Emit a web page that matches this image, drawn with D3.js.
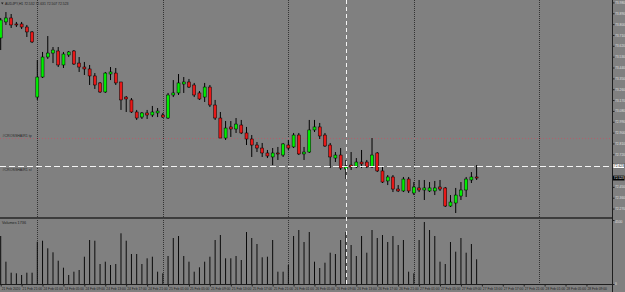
<!DOCTYPE html>
<html lang="en">
<head>
<meta charset="UTF-8">
<title>AUDJPY,H1</title>
<style>
  html, body { margin: 0; padding: 0; background: #808080; }
  svg { display: block; font-family: "Liberation Sans", Arial, sans-serif; }
</style>
</head>
<body>
<script src="https://cdn.jsdelivr.net/npm/d3@7"></script>
<script>
// ---- data ----
const symbol = 'AUDJPY,H1';
const dayNames = ['21 Feb', '24 Feb', '25 Feb', '26 Feb', '27 Feb', '28 Feb'];
const dayStartHour = [17, 0, 0, 0, 0, 0];
const dayHours = [7, 24, 24, 24, 24, 24];

const open = [
  73.685, 73.818, 73.851, 73.801, 73.801, 73.776, 73.735,
  73.195, 73.361, 73.527, 73.560, 73.577, 73.461, 73.544, 73.577, 73.477, 73.444,
  73.428, 73.370, 73.312, 73.237, 73.386, 73.394, 73.320, 73.195, 73.171, 73.071,
  73.029, 73.063, 73.046, 73.063, 73.046, 73.021, 73.212, 73.229, 73.303, 73.320,
  73.295, 73.229, 73.195, 73.278, 73.129, 73.021, 72.855, 72.947, 72.930, 72.963,
  72.897, 72.847, 72.797, 72.772, 72.731, 72.698, 72.731, 72.714, 72.797, 72.781,
  72.880, 72.723, 72.739, 72.922, 72.947, 72.880, 72.797, 72.689, 72.714, 72.598,
  72.631, 72.615, 72.656, 72.656, 72.615, 72.731, 72.582, 72.499, 72.532, 72.432,
  72.416, 72.515, 72.399, 72.441, 72.424, 72.416, 72.416, 72.449, 72.441, 72.291,
  72.316, 72.374, 72.424, 72.507, 72.532
];
const high = [
  73.851, 73.900, 73.884, 73.818, 73.818, 73.793, 73.743,
  73.502, 73.569, 73.701, 73.610, 73.610, 73.569, 73.577, 73.585, 73.527, 73.486,
  73.461, 73.394, 73.320, 73.403, 73.444, 73.436, 73.320, 73.204, 73.187, 73.088,
  73.071, 73.088, 73.121, 73.104, 73.063, 73.229, 73.336, 73.386, 73.361, 73.345,
  73.312, 73.245, 73.312, 73.295, 73.171, 73.071, 72.996, 72.996, 73.021, 73.005,
  72.947, 72.880, 72.822, 72.814, 72.756, 72.772, 72.781, 72.814, 72.839, 72.897,
  72.897, 72.781, 73.005, 73.005, 72.980, 72.897, 72.814, 72.739, 72.772, 72.673,
  72.739, 72.689, 72.756, 72.673, 72.855, 72.739, 72.615, 72.548, 72.548, 72.465,
  72.532, 72.532, 72.490, 72.507, 72.507, 72.490, 72.499, 72.507, 72.449, 72.382,
  72.441, 72.490, 72.532, 72.573, 72.631
];
const low = [
  73.585, 73.793, 73.768, 73.776, 73.759, 73.693, 73.643,
  73.171, 73.353, 73.511, 73.477, 73.444, 73.436, 73.527, 73.461, 73.403, 73.378,
  73.295, 73.262, 73.229, 73.229, 73.336, 73.295, 73.088, 73.071, 73.063, 73.005,
  73.013, 73.013, 73.029, 73.029, 73.021, 73.013, 73.195, 73.212, 73.229, 73.270,
  73.195, 73.171, 73.154, 73.112, 73.005, 72.855, 72.839, 72.864, 72.897, 72.888,
  72.797, 72.698, 72.739, 72.698, 72.689, 72.631, 72.673, 72.698, 72.756, 72.772,
  72.714, 72.673, 72.731, 72.905, 72.847, 72.781, 72.606, 72.656, 72.590, 72.515,
  72.590, 72.606, 72.606, 72.606, 72.606, 72.573, 72.482, 72.465, 72.407, 72.407,
  72.407, 72.399, 72.382, 72.407, 72.341, 72.407, 72.382, 72.416, 72.283, 72.283,
  72.233, 72.341, 72.366, 72.482, 72.507
];
const close = [
  73.834, 73.851, 73.793, 73.793, 73.776, 73.735, 73.652,
  73.361, 73.527, 73.560, 73.585, 73.461, 73.552, 73.569, 73.469, 73.444, 73.428,
  73.370, 73.295, 73.237, 73.394, 73.403, 73.312, 73.171, 73.179, 73.071, 73.021,
  73.063, 73.046, 73.071, 73.079, 73.029, 73.212, 73.229, 73.312, 73.320, 73.278,
  73.212, 73.179, 73.278, 73.129, 73.021, 72.855, 72.938, 72.930, 72.971, 72.897,
  72.847, 72.797, 72.772, 72.731, 72.706, 72.731, 72.723, 72.806, 72.772, 72.880,
  72.723, 72.739, 72.922, 72.947, 72.872, 72.789, 72.698, 72.714, 72.606, 72.623,
  72.615, 72.656, 72.640, 72.615, 72.714, 72.582, 72.490, 72.532, 72.432, 72.416,
  72.515, 72.416, 72.449, 72.424, 72.441, 72.441, 72.441, 72.432, 72.291, 72.324,
  72.382, 72.424, 72.515, 72.532, 72.523
];
const volume = [
  3375, 1568, 794, 752, 633, 794, 794,
  2974, 3044, 2510, 2229, 1638, 1146, 633, 865, 984, 1919,
  3093, 3044, 1406, 1568, 1336, 1406, 3564, 3044, 2109, 2109,
  1406, 1807, 1919, 865, 752, 1968, 3234, 3374, 1968, 1568,
  865, 1174, 1568, 1919, 3093, 3445, 1807, 1807, 1968, 1687,
  3656, 3234, 2812, 1877, 1919, 3093, 865, 865, 1336, 3374,
  3796, 2953, 3656, 1568, 1125, 1497, 2200, 2109, 3093, 3656,
  2742, 1968, 3374, 2200, 3796, 3234, 3445, 2953, 3374, 2742,
  3093, 865, 752, 3093, 4359, 3796, 3374, 1568, 1406, 2953,
  2271, 3234, 2200, 2812, 1736
];
const priceTicks = [73.980, 73.890, 73.800, 73.710, 73.620, 73.530, 73.440, 73.350, 73.260,
  73.170, 73.080, 72.990, 72.900, 72.810, 72.720, 72.630, 72.540, 72.450, 72.360, 72.270];
const volumeTicks = [4500, 0];
const levelPrice = 72.855;   // red dotted line
const crossPrice = 72.623;   // white dashed crosshair
const crossBar = 66;
const levelLabels = ['#CROSSHAIR1 tp', '#CROSSHAIR1 sl'];

// ---- layout ----
const W = 625, H = 292;
const plotR = 612.5;
const mainTop = 0, mainBot = 217;
const volTop = 220, volBot = 284;
const axisFont = 3.3;

// bar times (categories) for the time axis
const times = [];
dayNames.forEach((d, k) => {
  for (let h = 0; h < dayHours[k]; h++) {
    times.push({ day: d, hour: dayStartHour[k] + h });
  }
});

const bars = open.map((o, i) => ({ i, o, h: high[i], l: low[i], c: close[i], v: volume[i] }));

const x = d3.scaleLinear().domain([0, 91]).range([0.7, 0.7 + 91 * 5.23]);
const y = d3.scaleLinear().domain([72.2, 74.0]).range([mainBot, mainTop]);
const yVol = d3.scaleLinear().domain([0, 4500]).range([volBot, volTop]);
const f3 = d3.format('.3f');

const svg = d3.select('body').append('svg')
  .attr('width', W).attr('height', H);

svg.append('rect').attr('width', W).attr('height', H).attr('fill', '#808080');

// period separators (day starts)
const sepIdx = times.map((t, i) => i).filter(i => times[i].hour === 0 && x(i) < plotR);
svg.append('g').selectAll('line').data(sepIdx).enter().append('line')
  .attr('x1', d => Math.round(x(d)) + 0.5).attr('x2', d => Math.round(x(d)) + 0.5)
  .attr('y1', 0).attr('y2', volBot)
  .attr('stroke', '#333').attr('stroke-width', 1).attr('stroke-dasharray', '1,1');

// red level line
svg.append('line')
  .attr('x1', 0).attr('x2', plotR)
  .attr('y1', Math.round(y(levelPrice)) + 0.5).attr('y2', Math.round(y(levelPrice)) + 0.5)
  .attr('stroke', '#b0606c').attr('stroke-width', 1).attr('stroke-dasharray', '1,2');

// main / volume separator
svg.append('rect').attr('x', 0).attr('y', mainBot).attr('width', plotR).attr('height', 2)
  .attr('fill', '#3c3c3c');

// volume bars
svg.append('g').selectAll('line').data(bars).enter().append('line')
  .attr('x1', d => x(d.i)).attr('x2', d => x(d.i))
  .attr('y1', d => yVol(d.v)).attr('y2', volBot)
  .attr('stroke', '#0a0a0a').attr('stroke-width', 1);

// candles
const cg = svg.append('g');
cg.selectAll('line').data(bars).enter().append('line')
  .attr('x1', d => x(d.i)).attr('x2', d => x(d.i))
  .attr('y1', d => y(d.h)).attr('y2', d => y(d.l))
  .attr('stroke', '#000').attr('stroke-width', 1);
cg.selectAll('rect').data(bars).enter().append('rect')
  .attr('x', d => x(d.i) - 1.5).attr('width', 3)
  .attr('y', d => y(Math.max(d.o, d.c)))
  .attr('height', d => Math.max(1, Math.abs(y(d.o) - y(d.c))))
  .attr('fill', d => d.c >= d.o ? '#00ee00' : '#e81818')
  .attr('stroke', '#000').attr('stroke-width', 0.5);

// crosshair
svg.append('line')
  .attr('x1', 0).attr('x2', plotR)
  .attr('y1', Math.round(y(crossPrice)) + 0.5).attr('y2', Math.round(y(crossPrice)) + 0.5)
  .attr('stroke', '#f4f4f4').attr('stroke-width', 1).attr('stroke-dasharray', '6,3');
svg.append('line')
  .attr('x1', Math.round(x(crossBar)) + 0.5).attr('x2', Math.round(x(crossBar)) + 0.5)
  .attr('y1', 0).attr('y2', volBot)
  .attr('stroke', '#f4f4f4').attr('stroke-width', 1).attr('stroke-dasharray', '4,3');

// level labels
svg.append('text').attr('x', 2.5).attr('y', y(levelPrice) - 1.5)
  .attr('font-size', 3.6).attr('fill', '#2a2a2a').text(levelLabels[0]);
svg.append('text').attr('x', 2.5).attr('y', y(crossPrice) + 4.5)
  .attr('font-size', 3.6).attr('fill', '#2a2a2a').text(levelLabels[1]);

// title
const last = bars[bars.length - 1];
svg.append('path').attr('d', 'M1,2.6 L3.6,2.6 L2.3,4.6 Z').attr('fill', '#222');
svg.append('text').attr('x', 5).attr('y', 5)
  .attr('font-size', 3.4).attr('fill', '#1e1e1e')
  .text(`${symbol}  ${f3(last.o)} ${f3(last.h)} ${f3(last.l)} ${f3(last.c)}`);

// volume label
svg.append('text').attr('x', 2).attr('y', volTop + 3.5)
  .attr('font-size', 3.8).attr('fill', '#1e1e1e').text(`Volumes ${last.v}`);

// price axis (labels that would sit under the price boxes are skipped)
const cy = y(last.c), hy = y(crossPrice);
const shownTicks = priceTicks.filter(p => Math.abs(y(p) - cy) > 4 && Math.abs(y(p) - hy) > 4);
const pAxis = svg.append('g').attr('transform', `translate(${plotR},0)`)
  .call(d3.axisRight(y).tickValues(shownTicks).tickFormat(f3).tickSize(2).tickPadding(0.5));
pAxis.select('.domain').remove();
pAxis.selectAll('line').attr('stroke', '#222');
pAxis.selectAll('text').attr('font-size', axisFont).attr('fill', '#e0e0e0')
  .attr('font-family', '"Liberation Sans", Arial, sans-serif');

// volume axis
const vAxis = svg.append('g').attr('transform', `translate(${plotR},0)`)
  .call(d3.axisRight(yVol).tickValues(volumeTicks).tickFormat(d3.format('d')).tickSize(2).tickPadding(0.5));
vAxis.select('.domain').remove();
vAxis.selectAll('line').attr('stroke', '#222');
vAxis.selectAll('text').attr('font-size', axisFont).attr('fill', '#e0e0e0')
  .attr('font-family', '"Liberation Sans", Arial, sans-serif')
  .attr('dy', (d, i) => i === 0 ? '0.9em' : '0em');

// axis frame
svg.append('line').attr('x1', plotR).attr('x2', plotR).attr('y1', 0).attr('y2', H)
  .attr('stroke', '#1e1e1e').attr('stroke-width', 1);
svg.append('line').attr('x1', 0).attr('x2', plotR).attr('y1', volBot + 0.5).attr('y2', volBot + 0.5)
  .attr('stroke', '#1e1e1e').attr('stroke-width', 1);

// current price box
svg.append('rect').attr('x', plotR + 0.5).attr('y', cy - 2.4).attr('width', 11.5).attr('height', 4.8).attr('fill', '#000');
svg.append('text').attr('x', plotR + 1.3).attr('y', cy + 1.2).attr('font-size', axisFont).attr('fill', '#fff')
  .text(f3(last.c));

// crosshair price box
svg.append('rect').attr('x', plotR + 0.5).attr('y', hy - 2.4).attr('width', 11.5).attr('height', 4.8)
  .attr('fill', '#fff').attr('stroke', '#222').attr('stroke-width', 0.4);
svg.append('text').attr('x', plotR + 1.3).attr('y', hy + 1.2).attr('font-size', axisFont).attr('fill', '#000')
  .text(f3(crossPrice));

// time axis
const tIdx = d3.range(0, times.length, 4).filter(i => x(i) < plotR - 10);
const fmtTime = i => {
  const t = times[i];
  if (i === 0) return `${t.day} 2020`;
  return `${t.day} ${String(t.hour).padStart(2, '0')}:00`;
};
const tAxis = svg.append('g').attr('transform', `translate(0,${volBot + 0.5})`)
  .call(d3.axisBottom(x).tickValues(tIdx).tickFormat(fmtTime).tickSize(2).tickPadding(1));
tAxis.select('.domain').remove();
tAxis.selectAll('line').attr('stroke', '#222');
tAxis.selectAll('text').attr('font-size', axisFont).attr('fill', '#1e1e1e')
  .attr('text-anchor', 'start').attr('dx', 0.5)
  .attr('font-family', '"Liberation Sans", Arial, sans-serif');
</script>
</body>
</html>
